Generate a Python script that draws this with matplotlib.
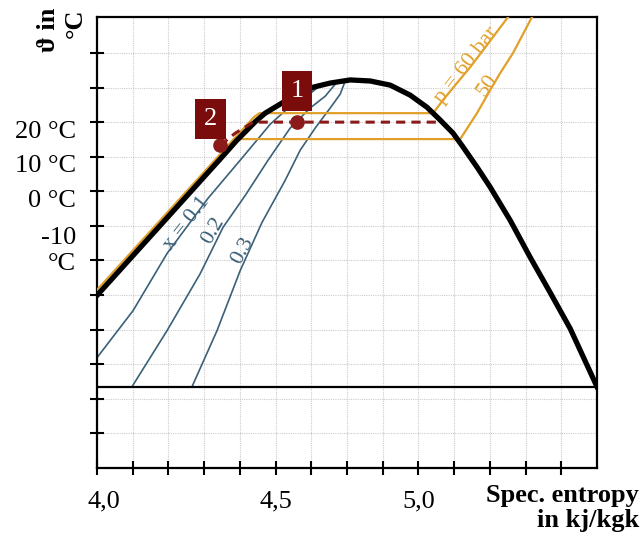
import numpy as np
import matplotlib
matplotlib.use("Agg")
import matplotlib.pyplot as plt
from matplotlib.transforms import ScaledTranslation

plt.rcParams['font.family'] = ['Liberation Serif', 'DejaVu Serif']

# saturation dome (entropy, temperature)
dome_s = [4.000, 4.342, 4.392, 4.420, 4.445, 4.471, 4.532, 4.605, 4.653, 4.709, 4.765,
          4.821, 4.877, 4.924, 4.961, 4.997, 5.025, 5.064, 5.101, 5.157, 5.213,
          5.269, 5.325, 5.400]
dome_t = [-30.1, 9.0, 14.8, 17.7, 20.3, 22.6, 26.4, 30.1, 31.3, 32.2, 31.9,
          30.7, 27.8, 24.3, 20.6, 16.8, 12.8, 7.0, 1.2, -8.4, -19.1,
          -29.3, -39.7, -56.5]

# isobars
p60_s = [4.000, 4.330, 4.380, 4.440, 4.455, 4.941, 4.969, 5.003, 5.045, 5.092, 5.151]
p60_t = [-28.5, 9.0, 14.8, 21.5, 22.6, 22.6, 26.4, 30.7, 35.9, 42.3, 50.4]
p50_s = [4.401, 5.017, 5.064, 5.101, 5.129, 5.165, 5.218]
p50_t = [15.1, 15.1, 22.6, 29.3, 34.2, 40.0, 50.4]

# vapour quality lines
x01_s = [4.000, 4.101, 4.196, 4.311, 4.401, 4.485, 4.541, 4.591, 4.630]
x01_t = [-48.1, -34.5, -18.0, -2.0, 9.0, 19.4, 24.6, 27.8, 31.0]
x02_s = [4.098, 4.196, 4.289, 4.353, 4.415, 4.479, 4.541, 4.597, 4.639, 4.672]
x02_t = [-56.5, -40.3, -23.8, -10.4, -1.2, 9.0, 18.3, 24.1, 27.5, 31.6]
x03_s = [4.266, 4.336, 4.401, 4.462, 4.527, 4.569, 4.611, 4.653, 4.681, 4.695]
x03_t = [-56.5, -40.3, -22.9, -9.0, 3.2, 11.9, 18.3, 24.1, 28.1, 31.9]

# process 2 -> 1
proc_s = [4.345, 4.387, 4.437, 4.952]
proc_t = [13.3, 16.8, 20.0, 20.0]
pt_s = [4.560, 4.345]
pt_t = [20.0, 13.3]
pt_names = ['1', '2']
box_s = [4.560, 4.317]
box_t = [29.0, 20.9]

t_triple = -56.6

ytick_vals = [20, 10, 0, -10]
ytick_text = ['20 °C', '10 °C', '0 °C', '-10\n°C']
xtick_vals = [4.0, 4.5, 4.9]
xtick_text = ['4,0', '4,5', '5,0']

orange = '#e0a02a'
blue = '#3b6079'
red = '#8b1a1a'

fig = plt.figure(figsize=(6.43, 5.44), dpi=100)
ax = fig.add_axes([97/643, 76/544, 500/643, 451/544])

ax.set_xlim(4.0, 5.4)
ax.set_ylim(-80, 50.4)

ax.plot(p60_s, p60_t, color=orange, lw=1.6, zorder=3)
ax.plot(p50_s, p50_t, color=orange, lw=1.6, zorder=3)
for s, t in [(x01_s, x01_t), (x02_s, x02_t), (x03_s, x03_t)]:
    ax.plot(s, t, color=blue, lw=1.2, zorder=2)
ax.axhline(t_triple, color='black', lw=1.6, zorder=4)
ax.plot(dome_s, dome_t, color='black', lw=3.8, solid_joinstyle='round', zorder=5)
ax.plot(proc_s, proc_t, color=red, lw=2.2, dashes=(3, 2), zorder=6)
ax.plot(pt_s, pt_t, 'o', color=red, ms=9.5, zorder=7)
for s, t, n in zip(box_s, box_t, pt_names):
    ax.text(s, t, n, color='white', fontsize=19, ha='center', va='center', zorder=8,
            bbox=dict(boxstyle='square,pad=0.33', fc='#7b0c0c', ec='none'))

# curve labels
ax.text(4.252, -9.3, 'x = 0.1', color=blue, fontsize=16, rotation=52, ha='center', va='center')
ax.text(4.325, -11.3, '0.2', color=blue, fontsize=16, rotation=60, ha='center', va='center')
ax.text(4.409, -17.1, '0.3', color=blue, fontsize=16, rotation=62, ha='center', va='center')
ax.text(5.036, 36.5, 'p = 60 bar', color=orange, fontsize=16, rotation=52, ha='center', va='center')
ax.text(5.092, 30.7, '50', color=orange, fontsize=16, rotation=55, ha='center', va='center')

ax.set_xticks(np.arange(4.0, 5.35, 0.1))
ax.set_yticks(np.arange(-70, 50, 10))
xlabels = []
for v in np.arange(4.0, 5.35, 0.1):
    hit = [t for xv, t in zip(xtick_vals, xtick_text) if abs(xv - v) < 1e-6]
    xlabels.append(hit[0] if hit else '')
ax.set_xticklabels(xlabels)
ylabels = []
for v in np.arange(-70, 50, 10):
    ylabels.append(ytick_text[ytick_vals.index(v)] if v in ytick_vals else '')
ax.set_yticklabels(ylabels, multialignment='right')
ax.tick_params(direction='inout', length=10, width=1.5, labelsize=19, color='black')
ax.tick_params(axis='x', pad=11)
ax.tick_params(axis='y', pad=10)
for lab in ax.get_xticklabels():
    if lab.get_text() == '4,0':
        lab.set_transform(lab.get_transform() + ScaledTranslation(0.07, 0, fig.dpi_scale_trans))
for lab in ax.get_yticklabels():
    if lab.get_text().startswith('-10'):
        lab.set_transform(lab.get_transform() + ScaledTranslation(0, -0.21, fig.dpi_scale_trans))
    else:
        lab.set_transform(lab.get_transform() + ScaledTranslation(0, -0.07, fig.dpi_scale_trans))

ax.grid(True, color='#cccccc', lw=0.8, ls=(0, (1, 1)))
ax.set_axisbelow(True)
for sp in ax.spines.values():
    sp.set_linewidth(1.6)

fig.text(62/643, 1 - 8/544, 'ϑ in\n°C', rotation=90, fontsize=19, fontweight='bold',
         ha='center', va='top', multialignment='right')
fig.text(639/643, 1 - 484/544, 'Spec. entropy\nin kj/kgk', fontsize=19, fontweight='bold',
         ha='right', va='top', multialignment='right', linespacing=1.1)

fig.savefig('out.png', dpi=100)
